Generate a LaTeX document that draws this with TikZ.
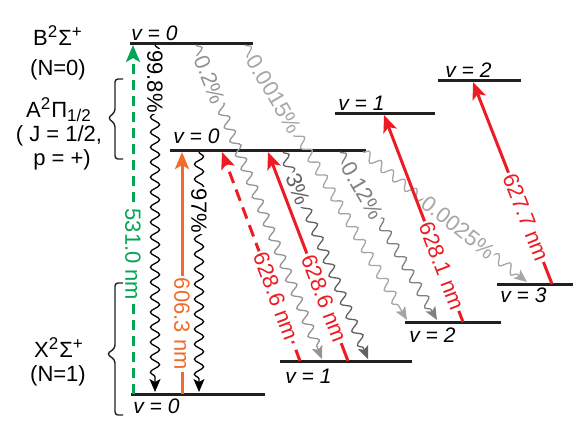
\documentclass[tikz,border=0pt]{standalone}
\usepackage{fontspec}
\setmainfont{Liberation Sans}
\usetikzlibrary{arrows.meta,decorations.pathmorphing}
\definecolor{levcol}{HTML}{231F20}
\definecolor{green531}{HTML}{00A651}
\definecolor{orange606}{HTML}{F26B2B}
\definecolor{red628}{HTML}{ED1C24}
\newcommand{\upidx}[1]{\textsuperscript{\fontsize{8.5}{10}\selectfont #1}}
\newcommand{\loidx}[1]{\textsubscript{\fontsize{8.5}{10}\selectfont #1}}

\begin{document}
\begin{tikzpicture}[x=0.5pt,y=-0.5pt,
  lvl/.style={levcol,line width=1.5pt},
  vlab/.style={font=\fontsize{10.5}{12}\selectfont\itshape,inner sep=0pt,anchor=base west},
  stlab/.style={font=\fontsize{11}{13}\selectfont,inner sep=0pt,anchor=base},
  brace/.style={levcol,line width=0.7pt,rounded corners=1.5pt},
  laser/.style={line width=1.5pt,-{Stealth[length=8.5pt,width=7pt,inset=2pt]}},
  nm/.style={font=\fontsize{11}{12}\selectfont,fill=white,inner sep=1pt},
  decay/.style={line width=0.65pt,-{Stealth[length=6.5pt,width=5.5pt,inset=1.5pt]},decorate,
    decoration={snake,amplitude=2.3pt,segment length=7.5pt,post length=5pt}},
  pct/.style={font=\fontsize{11}{12}\selectfont,fill=white,inner sep=0.8pt}]
  \useasboundingbox (0,0) rectangle (576,430);

  % vibrational levels
  \draw[lvl] (130,43) -- (253,43);
  \draw[lvl] (170,150) -- (366,150);
  \draw[lvl] (335,113) -- (435,113);
  \draw[lvl] (438,80) -- (521,80);
  \draw[lvl] (131,394) -- (265,394);
  \draw[lvl] (280,361) -- (412,361);
  \draw[lvl] (405,322) -- (501,322);
  \draw[lvl] (497,284) -- (573,284);

  \node[vlab] (vB0) at (131,40) {v = 0};
  \node[vlab] (vA0) at (173,143) {v = 0};
  \node[vlab] (vA1) at (338,110) {v = 1};
  \node[vlab] (vA2) at (445,77) {v = 2};
  \node[vlab] (vX0) at (133,413) {v = 0};
  \node[vlab] (vX1) at (285,383) {v = 1};
  \node[vlab] (vX2) at (409,342) {v = 2};
  \node[vlab] (vX3) at (500,302) {v = 3};

  % electronic states
  \node[stlab] (Bst) at (58,45) {B\upidx{2}Σ\upidx{+}};
  \node[stlab] (Bn) at (58,75) {(N=0)};
  \node[stlab] (Ast) at (59,117) {A\upidx{2}Π\loidx{1/2}};
  \node[stlab] (Aj) at (59,141) {( J = 1/2,};
  \node[stlab] (Ap) at (62,165) {p = +)};
  \node[stlab] (Xst) at (59,357) {X\upidx{2}Σ\upidx{+}};
  \node[stlab] (Xn) at (58,381) {(N=1)};

  \draw[brace] (123,79) -- (115,79) -- (115,112) -- (108,118) -- (115,124) -- (115,159) -- (123,159);
  \draw[brace] (123,283) -- (115,283) -- (115,348) -- (107,354) -- (115,360) -- (115,415) -- (123,415);

  % end points of the transitions
  \coordinate (bA) at (155,45);  \coordinate (xA) at (155,392);
  \coordinate (bB) at (196,45);  \coordinate (xB) at (322,359);
  \coordinate (bC) at (245,45);  \coordinate (xC) at (407,320);
  \coordinate (aA) at (199,152); \coordinate (xD) at (199,392);
  \coordinate (aB) at (283,152); \coordinate (xE) at (368,359);
  \coordinate (aC) at (340,152); \coordinate (xF) at (437,320);
  \coordinate (aD) at (363,152); \coordinate (xG) at (527,282);

  \coordinate (gX) at (133,394); \coordinate (gB) at (133,45);
  \coordinate (oX) at (182,394); \coordinate (oA) at (182,152);
  \coordinate (rX1) at (300,361); \coordinate (rA1) at (222,152);
  \coordinate (sX1) at (348,361); \coordinate (sA1) at (268,152);
  \coordinate (rX2) at (463,322); \coordinate (rA2) at (384,115);
  \coordinate (rX3) at (552,284); \coordinate (rA3) at (473,82);

  % spontaneous decays
  \draw[decay,black] (bA) -- node[pct,rotate=-90,pos=0.105] (p998) {99.8\%} (xA);
  \draw[decay,black!42] (bB) -- node[pct,sloped,pos=0.11] (p02) {0.2\%} (xB);
  \draw[decay,black!35] (bC) -- node[pct,sloped,pos=0.18] (p0015) {0.0015\%} (xC);
  \draw[decay,black] (aA) -- node[pct,rotate=-90,pos=0.245] (p97) {97\%} (xD);
  \draw[decay,black!62] (aB) -- node[pct,sloped,pos=0.18] (p3) {3\%} (xE);
  \draw[decay,black!50] (aC) -- node[pct,sloped,pos=0.23] (p012) {0.12\%} (xF);
  \draw[decay,black!35] (aD) -- node[pct,sloped,pos=0.58] (p0025) {0.0025\%} (xG);

  % lasers
  \draw[laser,green531,dashed,dash pattern=on 5pt off 3pt] (gX) -- node[nm,rotate=-90,pos=0.4] (l531) {531.0 nm} (gB);
  \draw[laser,orange606] (oX) -- node[nm,rotate=-90,pos=0.29] (l606) {606.3 nm} (oA);
  \draw[laser,red628,dash pattern=on 6pt off 3.5pt] (rX1) -- node[nm,sloped,pos=0.31] (l628a) {628.6 nm} (rA1);
  \draw[laser,red628] (sX1) -- node[nm,sloped,pos=0.3] (l628b) {628.6 nm} (sA1);
  \draw[laser,red628] (rX2) -- node[nm,sloped,pos=0.27] (l6281) {628.1 nm} (rA2);
  \draw[laser,red628] (rX3) -- node[nm,sloped,pos=0.33] (l6277) {627.7 nm} (rA3);
\end{tikzpicture}
\end{document}
